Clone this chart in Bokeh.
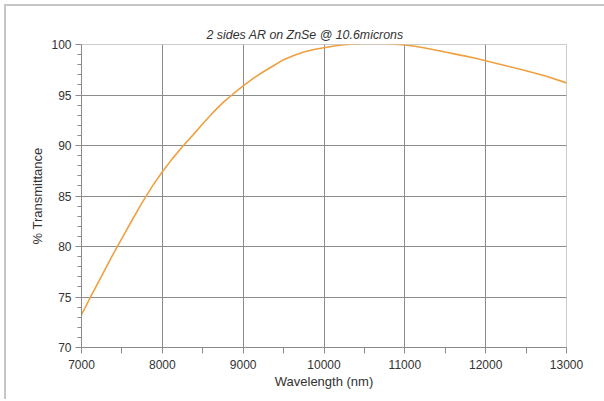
from bokeh.plotting import figure
from bokeh.models import FixedTicker, Range1d
from bokeh.embed import file_html
from bokeh.resources import INLINE

# Data
wavelength_nm = [7000, 7125, 7250, 7375, 7500, 7625, 7750, 7875, 8000, 8125,
                 8250, 8375, 8500, 8625, 8750, 8875, 9000, 9125, 9250, 9375,
                 9500, 9625, 9750, 9875, 10000, 10125, 10250, 10375, 10500,
                 10625, 10750, 10875, 11000, 11125, 11250, 11375, 11500, 11625,
                 11750, 11875, 12000, 12250, 12500, 12750, 13000]
transmittance = [73.25, 75.2, 77.1, 79.0, 80.8, 82.6, 84.35, 85.95, 87.4, 88.7,
                 89.9, 91.0, 92.15, 93.25, 94.25, 95.1, 95.9, 96.65, 97.3, 97.9,
                 98.5, 98.9, 99.25, 99.5, 99.68, 99.85, 99.97, 100.05, 100.1,
                 100.12, 100.1, 100.03, 99.95, 99.82, 99.65, 99.45, 99.25, 99.05,
                 98.85, 98.63, 98.4, 97.9, 97.4, 96.85, 96.2]

x_ticks = [7000, 8000, 9000, 10000, 11000, 12000, 13000]
y_ticks = [70, 75, 80, 85, 90, 95, 100]
x_grid = [8000, 9000, 10000, 11000, 12000]
y_grid = [75, 80, 85, 90, 95]

title_text = "2 sides AR on ZnSe @ 10.6microns"
x_label = "Wavelength (nm)"
y_label = "% Transmittance"

FONT = "Liberation Sans"
TXT = "#333333"

p = figure(
    output_backend="svg", toolbar_location=None,
    frame_width=485, frame_height=303,
    min_border_left=75, min_border_top=38, min_border_right=38, min_border_bottom=52,
    x_range=Range1d(7000, 13000), y_range=Range1d(70, 100),
    title=title_text,
)
p.styles = {"margin-left": "4px", "margin-top": "4px",
            "border-left": "2px solid #c6c6c6", "border-top": "2px solid #c6c6c6"}

p.background_fill_color = "white"
p.border_fill_color = "white"
p.outline_line_color = "#cccccc"
p.outline_line_width = 1

p.title.text_font = FONT
p.title.text_font_style = "italic"
p.title.text_font_size = "12.4px"
p.title.text_color = TXT
p.title.align = "left"
p.title.offset = 125
p.title.standoff = 5

p.line(wavelength_nm, transmittance, line_color="#f0a040", line_width=1.6)

# Axes
for ax in (p.xaxis[0], p.yaxis[0]):
    ax.axis_line_color = "#8a8a8a"
    ax.major_tick_line_color = "#8a8a8a"
    ax.minor_tick_line_color = "#8a8a8a"
    ax.major_tick_in = 0
    ax.minor_tick_in = 0
    ax.major_label_text_font = FONT
    ax.major_label_text_font_size = "12px"
    ax.major_label_text_color = TXT
    ax.axis_label_text_font = FONT
    ax.axis_label_text_font_size = "13px"
    ax.axis_label_text_font_style = "normal"
    ax.axis_label_text_color = TXT

p.xaxis.ticker = FixedTicker(ticks=x_ticks, minor_ticks=[7500, 8500, 9500, 10500, 11500, 12500])
p.yaxis.ticker = FixedTicker(ticks=y_ticks, minor_ticks=[v for v in range(71, 100) if v % 5 != 0])
p.xaxis.major_tick_out = 6
p.xaxis.minor_tick_out = 6
p.yaxis.major_tick_out = 6
p.yaxis.minor_tick_out = 4
p.xaxis.major_label_standoff = 6
p.yaxis.major_label_standoff = 4
p.xaxis.axis_label = x_label
p.yaxis.axis_label = y_label
p.xaxis.axis_label_standoff = 2
p.yaxis.axis_label_standoff = 3

# Grid
p.xgrid.ticker = FixedTicker(ticks=x_grid)
p.ygrid.ticker = FixedTicker(ticks=y_grid)
for g in (p.xgrid[0], p.ygrid[0]):
    g.grid_line_color = "#8c8c8c"
    g.grid_line_width = 1

open("out.html", "w").write(file_html(p, INLINE))
